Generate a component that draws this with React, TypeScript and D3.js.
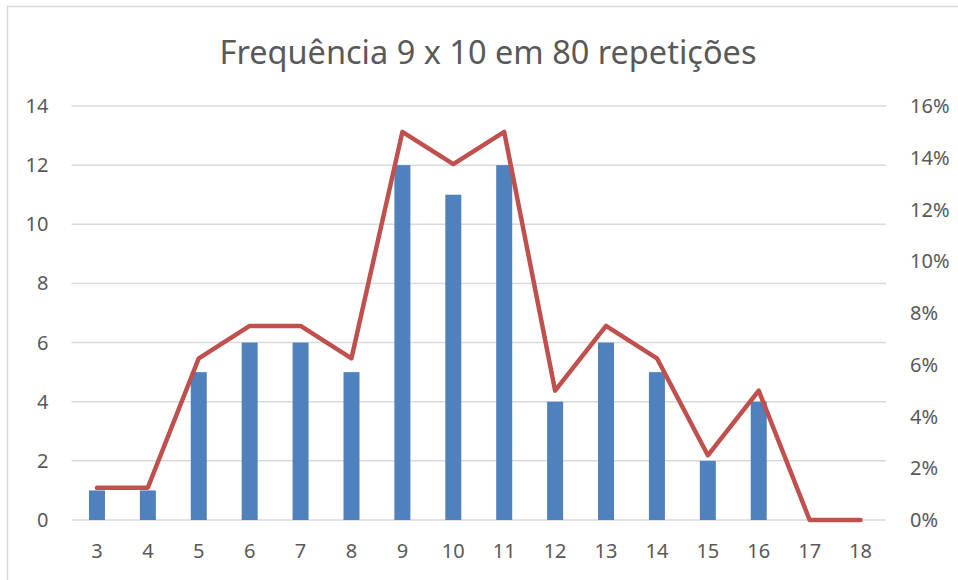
import React, { useEffect, useRef } from 'react';
import * as d3 from 'd3';

const categories = ['3', '4', '5', '6', '7', '8', '9', '10', '11', '12', '13', '14', '15', '16', '17', '18'];
const counts = [1, 1, 5, 6, 6, 5, 12, 11, 12, 4, 6, 5, 2, 4, 0, 0];
const percents = [0.0125, 0.0125, 0.0625, 0.075, 0.075, 0.0625, 0.15, 0.1375, 0.15, 0.05, 0.075, 0.0625, 0.025, 0.05, 0, 0];
const leftTicks = [0, 2, 4, 6, 8, 10, 12, 14];
const rightTicks = [0, 0.02, 0.04, 0.06, 0.08, 0.1, 0.12, 0.14, 0.16];
const title = 'Frequência 9 x 10 em 80 repetições';

const WIDTH = 958;
const HEIGHT = 580;
const FONT = '"Noto Sans", "Open Sans", sans-serif';
const TEXT = '#595959';

export default function App() {
  const svgRef = useRef<SVGSVGElement>(null);

  useEffect(() => {
    if (!svgRef.current) return;
    const svg = d3.select(svgRef.current);
    svg.selectAll('*').remove();

    const margin = { top: 106, right: 72, bottom: 60, left: 71.5 };
    const innerWidth = WIDTH - margin.left - margin.right;
    const innerHeight = HEIGHT - margin.top - margin.bottom;

    // chart frame (only top/left edges fall inside the window)
    svg.append('rect')
      .attr('x', 7.5)
      .attr('y', 6.5)
      .attr('width', 1000)
      .attr('height', 700)
      .attr('fill', '#fff')
      .attr('stroke', '#d9d9d9')
      .attr('stroke-width', 1.5);

    svg.append('text')
      .attr('x', 488)
      .attr('y', 64)
      .attr('text-anchor', 'middle')
      .attr('font-family', FONT)
      .attr('font-size', 32.5)
      .attr('fill', TEXT)
      .text(title);

    const g = svg.append('g')
      .attr('transform', `translate(${margin.left},${margin.top})`);

    const x = d3.scaleBand<string>()
      .domain(categories)
      .range([0, innerWidth]);

    const y = d3.scaleLinear().domain([0, 14]).range([innerHeight, 0]);
    const y2 = d3.scaleLinear().domain([0, 0.16]).range([innerHeight, 0]);

    // gridlines
    g.selectAll('line.grid')
      .data(leftTicks)
      .join('line')
      .attr('class', 'grid')
      .attr('x1', 0)
      .attr('x2', innerWidth)
      .attr('y1', d => y(d))
      .attr('y2', d => y(d))
      .attr('stroke', '#d9d9d9')
      .attr('stroke-width', 1.5);

    // left axis labels
    g.selectAll('text.yl')
      .data(leftTicks)
      .join('text')
      .attr('class', 'yl')
      .attr('x', -23)
      .attr('y', d => y(d))
      .attr('dy', '0.35em')
      .attr('text-anchor', 'end')
      .attr('font-family', FONT)
      .attr('font-size', 20)
      .attr('fill', TEXT)
      .text(d => d);

    // right axis labels
    g.selectAll('text.yr')
      .data(rightTicks)
      .join('text')
      .attr('class', 'yr')
      .attr('x', innerWidth + 24)
      .attr('y', d => y2(d))
      .attr('dy', '0.35em')
      .attr('text-anchor', 'start')
      .attr('font-family', FONT)
      .attr('font-size', 20)
      .attr('fill', TEXT)
      .text(d => d3.format('.0%')(d));

    // x labels
    g.selectAll('text.xl')
      .data(categories)
      .join('text')
      .attr('class', 'xl')
      .attr('x', d => (x(d) ?? 0) + x.bandwidth() / 2)
      .attr('y', innerHeight + 31)
      .attr('dy', '0.35em')
      .attr('text-anchor', 'middle')
      .attr('font-family', FONT)
      .attr('font-size', 20)
      .attr('fill', TEXT)
      .text(d => d);

    const barWidth = 16;
    g.selectAll('rect.bar')
      .data(counts)
      .join('rect')
      .attr('class', 'bar')
      .attr('x', (d, i) => (x(categories[i]) ?? 0) + x.bandwidth() / 2 - barWidth / 2)
      .attr('y', d => y(d))
      .attr('width', barWidth)
      .attr('height', d => innerHeight - y(d))
      .attr('fill', '#4f81bd');

    const line = d3.line<number>()
      .x((d, i) => (x(categories[i]) ?? 0) + x.bandwidth() / 2)
      .y(d => y2(d));

    g.append('path')
      .datum(percents)
      .attr('d', line)
      .attr('fill', 'none')
      .attr('stroke', '#c0504d')
      .attr('stroke-width', 4.5)
      .attr('stroke-linejoin', 'round')
      .attr('stroke-linecap', 'round');
  }, []);

  return (
    <svg
      ref={svgRef}
      width={WIDTH}
      height={HEIGHT}
      style={{ position: 'absolute', left: 0, top: 0, background: '#fff' }}
    />
  );
}
